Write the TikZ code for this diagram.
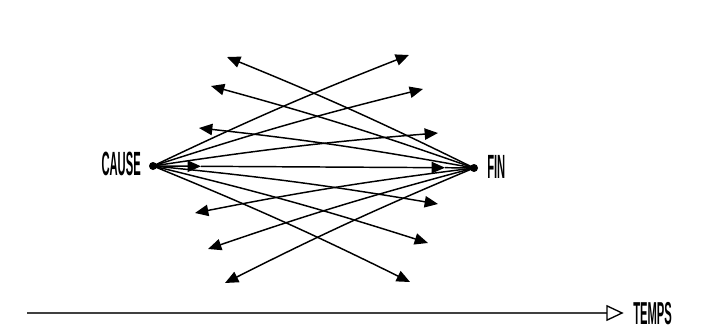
\documentclass[tikz,border=0pt]{standalone}
\usepackage{fontspec}
\setmainfont{Liberation Sans}
\usetikzlibrary{arrows.meta}
\begin{document}
\begin{tikzpicture}[x=0.75pt,y=-0.75pt,
  ray/.style={line width=1.1pt,-{Triangle[length=10pt,width=8.5pt]}},
  plain/.style={line width=1.1pt},
  dotnode/.style={circle,fill=black,inner sep=0pt,minimum size=6pt},
  lbl/.style={font=\bfseries\fontsize{14}{14}\selectfont,inner sep=0pt}]
\useasboundingbox (0,0) rectangle (708,332);
\node[dotnode] (cause) at (153,166) {};
\node[dotnode] (fin) at (474,168) {};
\node[lbl,anchor=east] (causelbl) at (141,164) {\scalebox{0.6}[1.8]{CAUSE}};
\node[lbl,anchor=west] (finlbl) at (487,167) {\scalebox{0.6}[1.8]{FIN}};
% tips of rays from CAUSE
\coordinate (r1) at (409,55);
\coordinate (r2) at (423,89);
\coordinate (r3) at (438,133);
\coordinate (r4) at (438,204);
\coordinate (r5) at (428,243);
\coordinate (r6) at (410,282);
% tips of rays from FIN
\coordinate (l1) at (227,57);
\coordinate (l2) at (211,86);
\coordinate (l3) at (199,128);
\coordinate (l4) at (195,213);
\coordinate (l5) at (208,249);
\coordinate (l6) at (225,283);
% middle line
\coordinate (m1) at (201,166.3);
\coordinate (m2) at (445,167.7);
\foreach \t in {r1,r2,r3,r4,r5,r6} \draw[ray] (cause.center) to[bend left=2] (\t);
\foreach \t in {l1,l2,l3,l4,l5,l6} \draw[ray] (fin.center) to[bend right=2] (\t);
\draw[ray] (cause.center) -- (m1);
\draw[ray] (m1) -- (m2);
\draw[plain] (m2) -- (fin.center);
% time axis
\coordinate (t0) at (27,313);
\node[lbl,anchor=west] (temps) at (633,314) {\scalebox{0.6}[1.7]{TEMPS}};
\draw[line width=0.9pt,black!75,-{Triangle[open,length=13pt,width=12pt,line width=1pt,color=black]}] (t0) -- ([xshift=-7pt]temps.west |- t0);
\end{tikzpicture}
\end{document}
